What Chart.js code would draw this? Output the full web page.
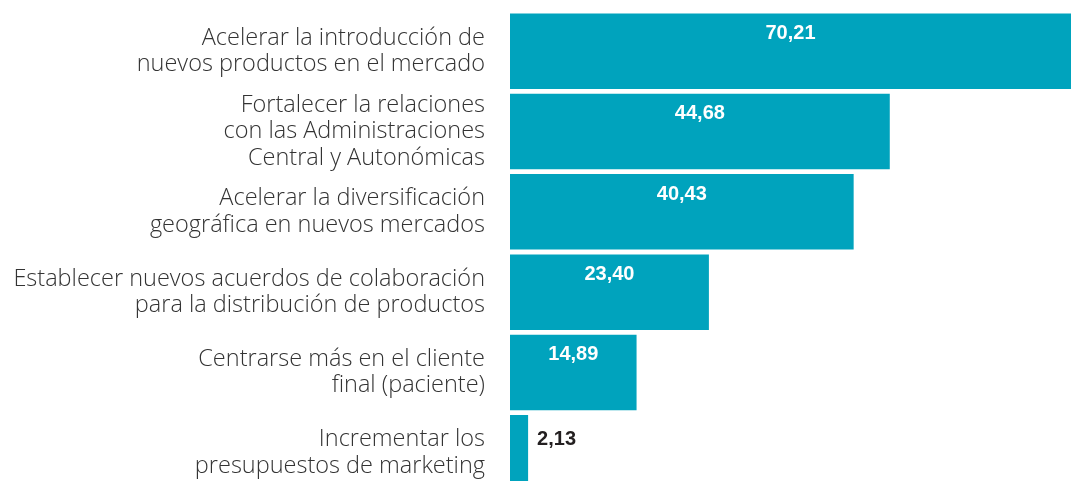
<!DOCTYPE html>
<html>
<head>
<meta charset="utf-8">
<script src="https://cdn.jsdelivr.net/npm/chart.js@4"></script>
<style>
  html, body { margin: 0; padding: 0; background: #fff; overflow: hidden; }
  #wrap { width: 1071px; height: 493px; }
</style>
</head>
<body>
<div id="wrap"><canvas id="bars"></canvas></div>
<script>
const categories = [
  ["Acelerar la introducción de", "nuevos productos en el mercado"],
  ["Fortalecer la relaciones", "con las Administraciones", "Central y Autonómicas"],
  ["Acelerar la diversificación", "geográfica en nuevos mercados"],
  ["Establecer nuevos acuerdos de colaboración", "para la distribución de productos"],
  ["Centrarse más en el cliente", "final (paciente)"],
  ["Incrementar los", "presupuestos de marketing"]
];
const values = [70.21, 44.68, 40.43, 23.40, 14.89, 2.13];
const valueLabels = ["70,21", "44,68", "40,43", "23,40", "14,89", "2,13"];

// labels drawn on top of (or beside) each bar
const valueLabelPlugin = {
  id: "valueLabels",
  afterDatasetsDraw(chart) {
    const ctx = chart.ctx;
    const area = chart.chartArea;
    const meta = chart.getDatasetMeta(0);
    ctx.save();
    ctx.font = "bold 20px 'Liberation Sans', Arial, sans-serif";
    ctx.textBaseline = "middle";
    meta.data.forEach((bar, i) => {
      const right = Math.min(bar.x, area.right);
      const left = bar.base;
      const top = bar.y - bar.height / 2;
      if (right - left > 60) {
        ctx.fillStyle = "#ffffff";
        ctx.textAlign = "center";
        ctx.fillText(valueLabels[i], (left + right) / 2, top + 20);
      } else {
        ctx.fillStyle = "#231f20";
        ctx.textAlign = "left";
        ctx.fillText(valueLabels[i], right + 9, top + 24);
      }
    });
    ctx.restore();
  }
};

new Chart(document.getElementById("bars"), {
  type: "bar",
  data: {
    labels: categories,
    datasets: [
      {
        data: values,
        backgroundColor: "#00a3bd",
        borderWidth: 0,
        barPercentage: 0.94,
        categoryPercentage: 1,
      },
    ],
  },
  options: {
    indexAxis: "y",
    responsive: true,
    maintainAspectRatio: false,
    animation: false,
    layout: {
      padding: { top: 11, right: 0, bottom: 0, left: 0 },
    },
    plugins: {
      legend: { display: false },
      tooltip: { enabled: false },
    },
    scales: {
      x: {
        display: false,
        min: 0,
        max: 66,
      },
      y: {
        grid: { display: false, drawTicks: false },
        border: { display: false },
        afterFit(scale) {
          scale.width = 510;
          scale.paddingTop = 0;
          scale.paddingBottom = 0;
        },
        ticks: {
          autoSkip: false,
          color: "#333333",
          padding: 25,
          font: {
            family: "'Open Sans', sans-serif",
            size: 23.5,
            weight: 300,
            lineHeight: 1.13,
          },
        },
      },
    },
  },
  plugins: [valueLabelPlugin],
});
</script>
</body>
</html>
